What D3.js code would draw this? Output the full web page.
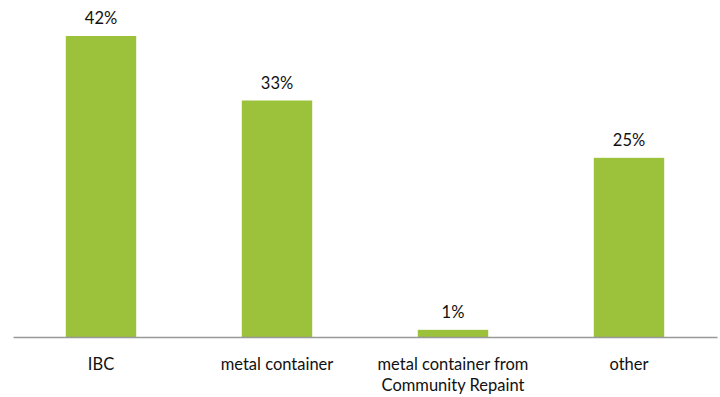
<!DOCTYPE html>
<html>
<head>
<meta charset="utf-8">
<script src="https://cdn.jsdelivr.net/npm/d3@7"></script>
<style>
  html, body { margin: 0; padding: 0; background: #fff; }
  svg text { font-family: "Lato", "Open Sans", sans-serif; fill: #111; }
</style>
</head>
<body>
<svg id="chart" width="720" height="397"></svg>
<script>
// Container types and their share of responses (%)
const categories = ["IBC", "metal container", "metal container from\nCommunity Repaint", "other"];
const values = [42, 33, 1, 25];
const valueLabels = ["42%", "33%", "1%", "25%"];

const svg = d3.select("#chart");
const baseline = 337;
const barColor = "#9cc13a";
const fontSize = 16.5;

const x = d3.scaleBand()
  .domain(categories)
  .range([13, 717])
  .paddingInner(0.6)
  .paddingOuter(0.3);

const y = d3.scaleLinear()
  .domain([0, 42])
  .range([baseline, 36]);

// Bars
svg.append("g").selectAll("rect")
  .data(categories)
  .join("rect")
  .attr("x", d => x(d))
  .attr("width", x.bandwidth())
  .attr("y", (d, i) => y(values[i]))
  .attr("height", (d, i) => baseline - y(values[i]))
  .attr("fill", barColor);

// Value labels above bars
svg.append("g").selectAll("text")
  .data(categories)
  .join("text")
  .attr("x", d => x(d) + x.bandwidth() / 2)
  .attr("y", (d, i) => y(values[i]) - 12)
  .attr("text-anchor", "middle")
  .attr("font-size", fontSize)
  .text((d, i) => valueLabels[i]);

// Category axis
const axis = svg.append("g")
  .attr("transform", `translate(0,${baseline})`)
  .call(d3.axisBottom(x).tickSize(0).tickPadding(0).tickFormat(""));
axis.select(".domain").attr("stroke", "#999").attr("stroke-width", 1.5);

axis.selectAll(".tick").each(function(d) {
  const lines = d.split("\n");
  const t = d3.select(this).append("text")
    .attr("text-anchor", "middle")
    .attr("font-size", fontSize)
    .attr("fill", "#111");
  lines.forEach((ln, k) => {
    t.append("tspan").attr("x", 0).attr("y", 33 + k * 21).text(ln);
  });
});
</script>
</body>
</html>
